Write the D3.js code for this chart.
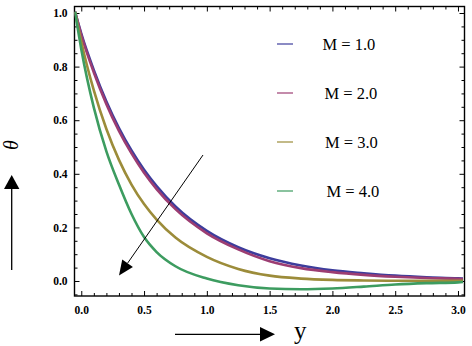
<!DOCTYPE html>
<html>
<head>
<meta charset="utf-8">
<script src="https://cdn.jsdelivr.net/npm/d3@7"></script>
<style>
  body { margin: 0; background: #fff; }
  svg { display: block; }
  .tick-label { font-family: "Liberation Serif", "Times New Roman", serif; font-weight: bold; font-size: 11.5px; }
</style>
</head>
<body>
<div id="chart"></div>
<script>
'use strict';

// values (y = similarity variable, theta = temperature)
var yValues = [-0.05, 0, 0.1, 0.2, 0.3, 0.4, 0.5, 0.6, 0.75, 1.0, 1.25, 1.5, 1.75, 2.0, 2.25, 2.5, 2.75, 3.0, 3.04];
var thetaM1 = [1.005, 0.923, 0.787, 0.670, 0.571, 0.487, 0.415, 0.354, 0.278, 0.187, 0.126, 0.085, 0.058, 0.040, 0.029, 0.020, 0.014, 0.010, 0.009];
var thetaM2 = [1.005, 0.918, 0.778, 0.660, 0.560, 0.476, 0.404, 0.343, 0.268, 0.178, 0.118, 0.074, 0.048, 0.033, 0.023, 0.016, 0.011, 0.008, 0.007];
var thetaM3 = [1.005, 0.893, 0.711, 0.567, 0.452, 0.360, 0.287, 0.229, 0.162, 0.090, 0.045, 0.020, 0.009, 0.004, 0.002, 0.001, 0.001, 0.001, 0.001];
var thetaM4 = [1.005, 0.865, 0.647, 0.484, 0.360, 0.250, 0.164, 0.108, 0.055, 0.009, -0.016, -0.028, -0.031, -0.028, -0.021, -0.013, -0.008, -0.005, -0.004];
var seriesLabels = ['M = 1.0', 'M = 2.0', 'M = 3.0', 'M = 4.0'];
var xTicks = [0, 0.5, 1.0, 1.5, 2.0, 2.5, 3.0];
var yTicks = [0, 0.2, 0.4, 0.6, 0.8, 1.0];

var colors = ['#3d3d9c', '#9c3d72', '#9c8c3a', '#3d9c60'];

var width = 472,
    height = 346,
    frame = { left: 74.5, right: 464.5, top: 6.5, bottom: 296 };

var svg = d3.select('#chart').append('svg')
    .attr('width', width)
    .attr('height', height);

var x = d3.scaleLinear().domain([-0.054, 3.052]).range([frame.left, frame.right]);
var y = d3.scaleLinear().domain([-0.056, 1.0243]).range([frame.bottom, frame.top]);

var xMinor = d3.range(1, 31).map(function (i) { return i / 10; }).filter(function (v) { return Math.round(v * 10) % 5 !== 0; });
var yMinor = d3.range(-1, 21).map(function (i) { return i / 20; }).filter(function (v) { return Math.round(v * 20) % 4 !== 0; });

/**drawAxis
 * ticks point inward on every side, labels only left and bottom
 */
function drawAxis(axisFn, scale, transform, major, minor, showLabels) {
    var g = svg.append('g').attr('transform', transform);
    g.call(axisFn(scale).tickValues(minor).tickSize(-3).tickFormat(''));
    var gm = svg.append('g').attr('transform', transform);
    gm.call(axisFn(scale).tickValues(major).tickSize(-5)
        .tickPadding(showLabels ? 8 : 0)
        .tickFormat(showLabels ? d3.format('.1f') : ''));
    [g, gm].forEach(function (s) {
        s.select('.domain').remove();
        s.selectAll('line').attr('stroke', '#000').attr('stroke-width', 1);
        s.selectAll('text').attr('class', 'tick-label').attr('fill', '#000');
    });
    return gm;
}

var bottomAxis = drawAxis(d3.axisBottom, x, 'translate(0,' + frame.bottom + ')', xTicks, xMinor, true);
bottomAxis.selectAll('text').attr('dy', '0.71em').attr('y', 10);
drawAxis(d3.axisTop, x, 'translate(0,' + frame.top + ')', xTicks, xMinor, false);
var leftAxis = drawAxis(d3.axisLeft, y, 'translate(' + frame.left + ',0)', yTicks, yMinor, true);
leftAxis.selectAll('text').attr('x', -7);
drawAxis(d3.axisRight, y, 'translate(' + frame.right + ',0)', yTicks, yMinor, false);

svg.append('rect')
    .attr('x', frame.left).attr('y', frame.top)
    .attr('width', frame.right - frame.left)
    .attr('height', frame.bottom - frame.top)
    .attr('fill', 'none').attr('stroke', '#000').attr('stroke-width', 1.4);

svg.append('clipPath').attr('id', 'plotClip')
    .append('rect')
    .attr('x', frame.left).attr('y', frame.top)
    .attr('width', frame.right - frame.left)
    .attr('height', frame.bottom - frame.top);

var line = d3.line()
    .x(function (d) { return x(d[0]); })
    .y(function (d) { return y(d[1]); })
    .curve(d3.curveMonotoneX);

var allSeries = [thetaM1, thetaM2, thetaM3, thetaM4];

svg.append('g').attr('clip-path', 'url(#plotClip)')
    .selectAll('path')
    .data(allSeries)
    .enter().append('path')
    .attr('d', function (s) { return line(yValues.map(function (v, i) { return [v, s[i]]; })); })
    .attr('fill', 'none')
    .attr('stroke', function (d, i) { return colors[i]; })
    .attr('stroke-width', 2.6);

// legend
var legendTop = 44, legendStep = 49;
var legendShift = [0, 2, 2.5, 4]; //text is not quite aligned in the original
var legend = svg.append('g').attr('class', 'legend');
seriesLabels.forEach(function (label, i) {
    var ly = legendTop + i * legendStep;
    legend.append('line')
        .attr('x1', 277).attr('x2', 293)
        .attr('y1', ly).attr('y2', ly)
        .attr('stroke', colors[i]).attr('stroke-width', 1.2);
    legend.append('text')
        .attr('x', 322.5 + legendShift[i]).attr('y', ly + 5.5)
        .attr('font-family', '"Liberation Serif", "Times New Roman", serif')
        .attr('font-size', 16.5)
        .text(label);
});

// axis labels with their arrows
svg.append('text')
    .attr('transform', 'translate(18,145) rotate(-90)')
    .attr('text-anchor', 'middle')
    .attr('font-family', '"Liberation Serif", "Times New Roman", serif')
    .attr('font-style', 'italic')
    .attr('font-size', 20)
    .text('\u03b8');

svg.append('line')
    .attr('x1', 11.7).attr('x2', 11.7).attr('y1', 270).attr('y2', 188)
    .attr('stroke', '#000').attr('stroke-width', 1.3);
svg.append('path')
    .attr('d', 'M11.7,175 L4,189 L19.4,189 Z')
    .attr('fill', '#000');

svg.append('line')
    .attr('x1', 175).attr('x2', 261).attr('y1', 334.3).attr('y2', 334.3)
    .attr('stroke', '#000').attr('stroke-width', 1.3);
svg.append('path')
    .attr('d', 'M275,334.3 L260,327 L260,341.6 Z')
    .attr('fill', '#000');

svg.append('text')
    .attr('x', 294).attr('y', 339)
    .attr('font-family', '"Liberation Serif", "Times New Roman", serif')
    .attr('font-size', 25)
    .text('y');

// diagonal arrow showing increase of M
var ax0 = 203, ay0 = 155, ax1 = 119, ay1 = 275.5;
var ang = Math.atan2(ay1 - ay0, ax1 - ax0),
    headLen = 15, headHalf = 6.5;
var bx = ax1 - headLen * Math.cos(ang), by = ay1 - headLen * Math.sin(ang);
svg.append('line')
    .attr('x1', ax0).attr('y1', ay0).attr('x2', bx).attr('y2', by)
    .attr('stroke', '#000').attr('stroke-width', 1);
svg.append('path')
    .attr('d', 'M' + ax1 + ',' + ay1 +
        ' L' + (bx + headHalf * Math.sin(ang)) + ',' + (by - headHalf * Math.cos(ang)) +
        ' L' + (bx - headHalf * Math.sin(ang)) + ',' + (by + headHalf * Math.cos(ang)) + ' Z')
    .attr('fill', '#000');
</script>
</body>
</html>
